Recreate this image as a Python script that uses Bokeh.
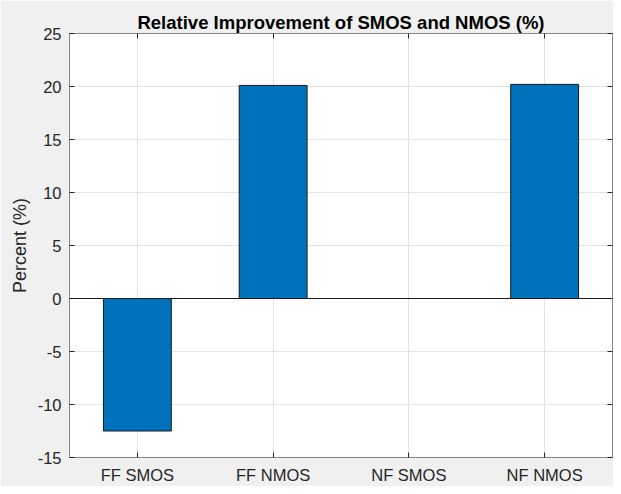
from bokeh.plotting import figure
from bokeh.models import (Range1d, FactorRange, FixedTicker, CategoricalAxis, LinearAxis,
                          Span, Title, ColumnDataSource)
from bokeh.embed import file_html
from bokeh.resources import INLINE

categories = ["FF SMOS", "FF NMOS", "NF SMOS", "NF NMOS"]
values = [-12.5, 20.1, 0.0, 20.2]
y_ticks = [-15, -10, -5, 0, 5, 10, 15, 20, 25]
y_tick_labels = ["-15", "-10", "-5", "0", "5", "10", "15", "20", "25"]
title_text = "Relative Improvement of SMOS and NMOS (%)"
y_label = "Percent (%)"

FONT = "Liberation Sans"
TXT = "#262626"
BOX = "#868686"

src = ColumnDataSource(dict(cat=categories, val=values))

p = figure(width=613, height=486, output_backend="svg", toolbar_location=None,
           x_range=FactorRange(*categories, range_padding=0),
           y_range=Range1d(y_ticks[0], y_ticks[-1]),
           min_border_left=69, min_border_right=1, min_border_top=33, min_border_bottom=27)

p.background_fill_color = "white"
p.border_fill_color = "#f0f0f0"
p.outline_line_color = BOX
p.outline_line_width = 1

p.vbar(x="cat", top="val", bottom=0, width=0.5, source=src,
       fill_color="#0072BD", line_color="#1a1a1a", line_width=1)

p.add_layout(Span(location=0, dimension="width", line_color="#1a1a1a", line_width=1))

p.yaxis.ticker = FixedTicker(ticks=y_ticks)
p.yaxis.major_label_overrides = {t: s for t, s in zip(y_ticks, y_tick_labels)}
for ax in (p.xaxis[0], p.yaxis[0]):
    ax.major_tick_in = 5
    ax.major_tick_out = 0
    ax.minor_tick_in = 0
    ax.minor_tick_out = 0
    ax.major_tick_line_color = TXT
    ax.axis_line_color = BOX
    ax.major_label_text_font = FONT
    ax.major_label_text_font_size = "16.5px"
    ax.major_label_text_color = TXT

p.xaxis.major_label_standoff = 8
p.yaxis.major_label_standoff = 8
p.yaxis.axis_label = y_label
p.yaxis.axis_label_text_font = FONT
p.yaxis.axis_label_text_font_size = "18px"
p.yaxis.axis_label_text_font_style = "normal"
p.yaxis.axis_label_text_color = TXT
p.yaxis.axis_label_standoff = 5

top_ax = CategoricalAxis(major_tick_in=5, major_tick_out=0, major_label_text_font_size="1px",
                         major_label_text_color=None, major_label_standoff=0,
                         axis_line_color=BOX, major_tick_line_color=TXT)
right_ax = LinearAxis(ticker=FixedTicker(ticks=y_ticks), major_tick_in=5, major_tick_out=0,
                      minor_tick_in=0, minor_tick_out=0, major_label_text_font_size="1px",
                      major_label_text_color=None, major_label_standoff=0,
                      axis_line_color=BOX, major_tick_line_color=TXT)
p.add_layout(top_ax, "above")
p.add_layout(right_ax, "right")

p.xgrid.grid_line_color = "#e3e3e3"
p.ygrid.grid_line_color = "#e3e3e3"
p.ygrid.ticker = FixedTicker(ticks=y_ticks)

p.title = Title(text=title_text, align="center", text_font=FONT, text_font_size="18.5px",
                text_font_style="bold", text_color="black", standoff=2)

open("out.html", "w").write(file_html(p, INLINE))
